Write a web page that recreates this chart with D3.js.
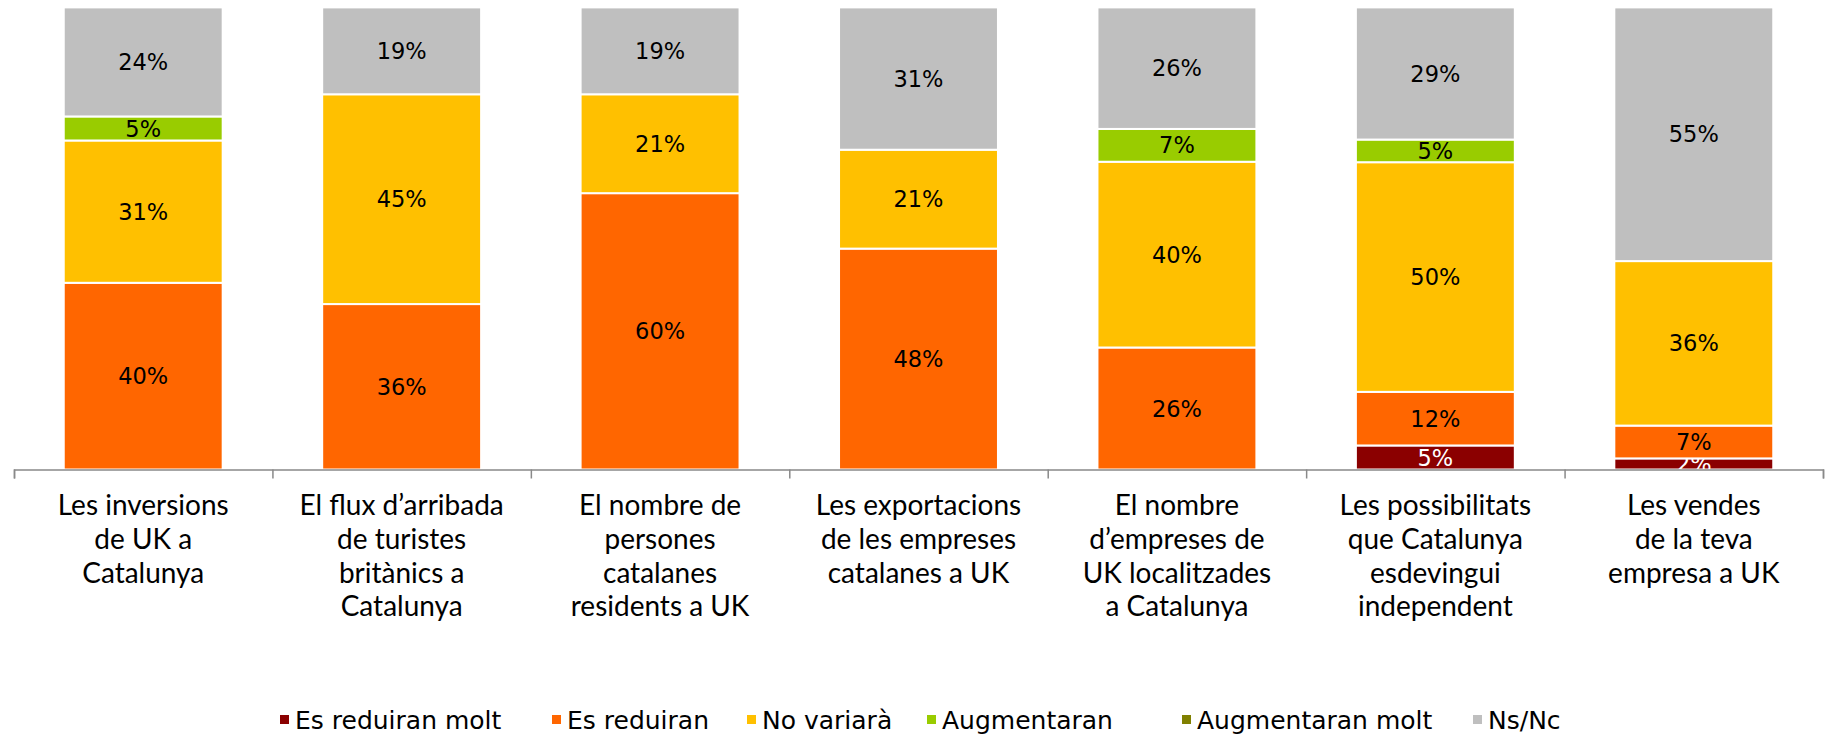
<!DOCTYPE html>
<html>
<head>
<meta charset="utf-8">
<script src="https://cdn.jsdelivr.net/npm/d3@7"></script>
<style>
  body { margin: 0; background: #fff; }
  svg { display: block; font-family: "Lato", "Noto Sans", sans-serif; }
</style>
</head>
<body>
<svg id="chart" width="1828" height="735"></svg>
<script>
// categories, one array of lines per bar
const categories = [
  ["Les inversions", "de UK a", "Catalunya"],
  ["El flux d’arribada", "de turistes", "britànics a", "Catalunya"],
  ["El nombre de", "persones", "catalanes", "residents a UK"],
  ["Les exportacions", "de les empreses", "catalanes a UK"],
  ["El nombre", "d’empreses de", "UK localitzades", "a Catalunya"],
  ["Les possibilitats", "que Catalunya", "esdevingui", "independent"],
  ["Les vendes", "de la teva", "empresa a UK"]
]
const seriesNames = ["Es reduiran molt", "Es reduiran", "No variarà", "Augmentaran", "Augmentaran molt", "Ns/Nc"]
const colors = ["#8B0000", "#FF6600", "#FFC000", "#99CC00", "#808000", "#BFBFBF"]

// values in %, per series
const esReduiranMolt  = [0, 0, 0, 0, 0, 5.2, 2.4]
const esReduiran      = [40.4, 35.8, 59.8, 47.8, 26.4, 11.6, 7.1]
const noVariara       = [30.8, 45.4, 21.4, 21.4, 40.2, 49.7, 35.6]
const augmentaran     = [5.2, 0, 0, 0, 7.1, 4.9, 0]
const augmentaranMolt = [0, 0, 0, 0, 0, 0, 0]
const nsNc            = [23.6, 18.8, 18.8, 30.8, 26.3, 28.6, 54.9]

const seriesValues = [esReduiranMolt, esReduiran, noVariara, augmentaran, augmentaranMolt, nsNc]

const rows = categories.map((c, i) => {
  let row = { key: i }
  seriesNames.forEach((s, j) => { row[s] = seriesValues[j][i] })
  return row
})

const svg = d3.select("#chart")
const plotLeft = 14, plotRight = 1823, plotTop = 7.4, plotBottom = 469.5

const x = d3.scaleBand().domain(d3.range(categories.length))
  .range([plotLeft, plotRight]).paddingInner(0.385).paddingOuter(0.1925)
const xEdges = d3.scaleLinear().domain([0, categories.length]).range([plotLeft, plotRight])
const y = d3.scaleLinear().domain([0, 100]).range([plotBottom, plotTop])

const stack = d3.stack().keys(seriesNames)(rows)

const layers = svg.append("g").selectAll("g")
  .data(stack)
  .join("g")
  .attr("fill", (d, i) => colors[i])

layers.selectAll("rect")
  .data(d => d)
  .join("rect")
  .attr("x", d => x(d.data.key))
  .attr("width", x.bandwidth())
  .attr("y", d => y(d[1]))
  .attr("height", d => y(d[0]) - y(d[1]))
  .attr("stroke", "#fff")
  .attr("stroke-width", 2)

// data labels
const fmt = d3.format(".0f")
layers.selectAll("text")
  .data((d, i) => d.map(p => ({ p: p, i: i })).filter(o => o.p[1] - o.p[0] > 0))
  .join("text")
  .attr("x", o => x(o.p.data.key) + x.bandwidth() / 2)
  .attr("y", o => y((o.p[0] + o.p[1]) / 2))
  .attr("dy", "0.36em")
  .attr("text-anchor", "middle")
  .attr("font-family", "DejaVu Sans")
  .attr("font-size", 22.5)
  .attr("fill", o => o.i === 0 ? "#fff" : "#000")
  .text(o => fmt(o.p[1] - o.p[0]) + "%")

// axis with ticks on category edges
const axis = svg.append("g")
  .attr("transform", "translate(0," + plotBottom + ")")
  .call(d3.axisBottom(xEdges).ticks(categories.length).tickSize(9).tickFormat(""))
axis.select(".domain").attr("stroke", "#898989").attr("stroke-width", 1.5)
axis.selectAll(".tick line").attr("stroke", "#898989").attr("stroke-width", 1.5)

// category labels
const labels = svg.append("g").selectAll("text")
  .data(categories)
  .join("text")
  .attr("text-anchor", "middle")
  .attr("font-size", 28)
  .attr("fill", "#000")
  .attr("transform", (d, i) => "translate(" + (x(i) + x.bandwidth() / 2) + ",515)")

labels.selectAll("tspan")
  .data(d => d)
  .join("tspan")
  .attr("x", 0)
  .attr("y", (d, i) => i * 33.8)
  .text(d => d)

// legend
const legendX = [285, 557, 752, 932, 1187, 1478]
const legend = svg.append("g").selectAll("g")
  .data(seriesNames)
  .join("g")
  .attr("transform", (d, i) => "translate(" + legendX[i] + ",720)")
legend.append("rect")
  .attr("x", -5).attr("y", -5).attr("width", 9).attr("height", 9)
  .attr("fill", (d, i) => colors[i])
legend.append("text")
  .attr("x", 10).attr("dy", "0.36em")
  .attr("font-family", "DejaVu Sans")
  .attr("font-size", 25)
  .text(d => d)
</script>
</body>
</html>
